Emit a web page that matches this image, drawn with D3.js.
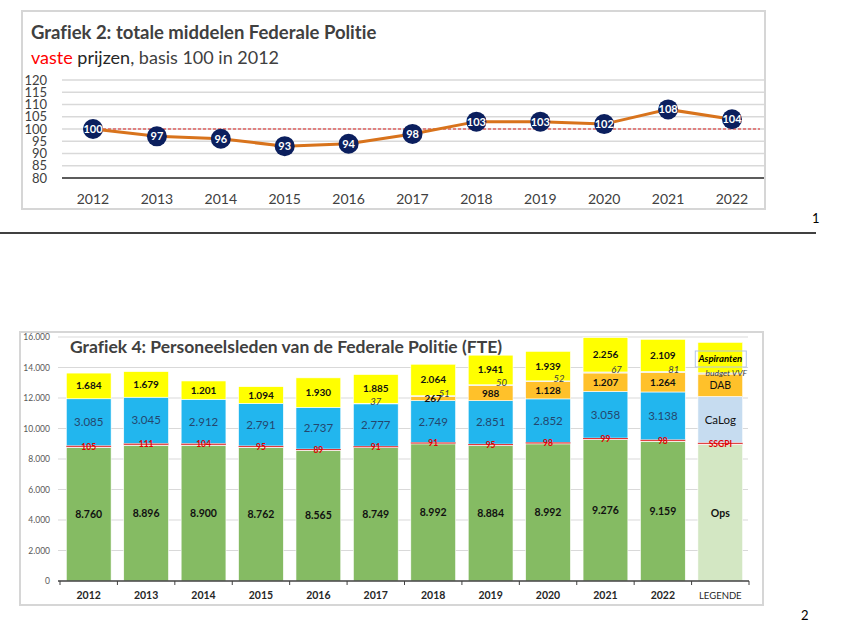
<!DOCTYPE html>
<html>
<head>
<meta charset="utf-8">
<script src="https://cdn.jsdelivr.net/npm/d3@7"></script>
<style>
  body { margin: 0; background: #fff; }
  svg { display: block; font-family: Lato, "Open Sans", sans-serif; font-variant-ligatures: none; }
</style>
</head>
<body>
<script>
// Grafiek 2: index totale middelen (vaste prijzen, 2012 = 100)
var years = ["2012","2013","2014","2015","2016","2017","2018","2019","2020","2021","2022"];
var indexValues = [100, 97, 96, 93, 94, 98, 103, 103, 102, 108, 104];
var indexTicks = [80, 85, 90, 95, 100, 105, 110, 115, 120];

// Grafiek 4: personeelsleden (FTE)
var fteCategories = years.concat(["LEGENDE"]);
var ops        = [8760, 8896, 8900, 8762, 8565, 8749, 8992, 8884, 8992, 9276, 9159];
var ssgpi      = [105, 111, 104, 95, 89, 91, 91, 95, 98, 99, 98];
var calog      = [3085, 3045, 2912, 2791, 2737, 2777, 2749, 2851, 2852, 3058, 3138];
var dab        = [0, 0, 0, 0, 0, 0, 267, 988, 1128, 1207, 1264];
var vvf        = [0, 0, 0, 0, 0, 37, 51, 50, 52, 67, 81];
var aspiranten = [1684, 1679, 1201, 1094, 1930, 1885, 2064, 1941, 1939, 2256, 2109];
var fteTicks = [0, 2000, 4000, 6000, 8000, 10000, 12000, 14000, 16000];
var legendNames = ["Ops", "SSGPI", "CaLog", "DAB", "budget VVF", "Aspiranten"];
var legendSizes = [8960, 100, 3040, 1470, 80, 2000];

var width = 844,
    height = 643;

var nl = d3.formatLocale({decimal: ",", thousands: ".", grouping: [3], currency: ["€", ""]});
var fmt = nl.format(",d");

var svg = d3.select("body").append("svg")
    .attr("width", width)
    .attr("height", height);

// ---------- top chart ----------
var topChart = svg.append("g");

topChart.append("rect")
    .attr("x", 22).attr("y", 11).attr("width", 743).attr("height", 198)
    .attr("fill", "none").attr("stroke", "#d6d6d6").attr("stroke-width", 2);

topChart.append("text").attr("x", 31).attr("y", 39)
    .attr("font-size", 18.5).attr("font-weight", "bold").attr("fill", "#404040")
    .text("Grafiek 2: totale middelen Federale Politie");

var sub = topChart.append("text").attr("x", 31).attr("y", 64)
    .attr("font-size", 18).attr("fill", "#404040");
sub.append("tspan").attr("fill", "#ff0000").text("vaste");
sub.append("tspan").attr("fill", "#262626").text(" prijzen");
sub.append("tspan").text(", basis 100 in 2012");

var xi = d3.scalePoint().domain(years).range([93, 732]);
var yi = d3.scaleLinear().domain([80, 120]).range([178, 80]);

topChart.selectAll(".igrid").data(indexTicks).enter().append("line")
    .attr("x1", 62).attr("x2", 764)
    .attr("y1", function(d) { return yi(d); })
    .attr("y2", function(d) { return yi(d); })
    .attr("stroke", function(d) { return d == 80 ? "#262626" : "#d9d9d9"; })
    .attr("stroke-width", 1.5);

topChart.selectAll(".itick").data(indexTicks).enter().append("text")
    .attr("x", 47).attr("y", function(d) { return yi(d) + 4.5; })
    .attr("text-anchor", "end").attr("font-size", 13).attr("fill", "#404040")
    .text(function(d) { return d; });

topChart.append("line")
    .attr("x1", xi("2012")).attr("x2", 760)
    .attr("y1", yi(100)).attr("y2", yi(100))
    .attr("stroke", "#e02020").attr("stroke-width", 1).attr("stroke-dasharray", "3,2");

topChart.selectAll(".iyear").data(years).enter().append("text")
    .attr("x", function(d) { return xi(d); }).attr("y", 204)
    .attr("text-anchor", "middle").attr("font-size", 14).attr("fill", "#404040")
    .text(function(d) { return d; });

var line = d3.line()
    .x(function(d, i) { return xi(years[i]); })
    .y(function(d) { return yi(d); });

topChart.append("path").datum(indexValues)
    .attr("d", line).attr("fill", "none")
    .attr("stroke", "#d8731c").attr("stroke-width", 3);

var pts = topChart.selectAll(".ipt").data(indexValues).enter().append("g")
    .attr("transform", function(d, i) { return "translate(" + xi(years[i]) + "," + yi(d) + ")"; });
pts.append("circle").attr("r", 10).attr("fill", "#0b1f5e");
pts.append("text").attr("y", 4).attr("text-anchor", "middle")
    .attr("font-size", 11).attr("font-weight", "bold").attr("fill", "#fff")
    .text(function(d) { return d; });

// page 1 footer
svg.append("text").attr("x", 812).attr("y", 223).attr("font-size", 13).attr("fill", "#000").text("1");
svg.append("line").attr("x1", 0).attr("x2", 816).attr("y1", 233).attr("y2", 233)
    .attr("stroke", "#000").attr("stroke-width", 1.5);

// ---------- bottom chart ----------
var bot = svg.append("g");

bot.append("rect")
    .attr("x", 20).attr("y", 332).attr("width", 743).attr("height", 273)
    .attr("fill", "none").attr("stroke", "#d6d6d6").attr("stroke-width", 2);

var xb = d3.scaleBand().domain(fteCategories).range([60, 749])
    .paddingInner(0.22).paddingOuter(0.11);
var yb = d3.scaleLinear().domain([0, 16000]).range([581, 337]);

bot.selectAll(".bgrid").data(fteTicks.slice(1)).enter().append("line")
    .attr("x1", 58).attr("x2", 748)
    .attr("y1", function(d) { return yb(d); })
    .attr("y2", function(d) { return yb(d); })
    .attr("stroke", "#d9d9d9").attr("stroke-width", 1);

bot.selectAll(".btick").data(fteTicks).enter().append("text")
    .attr("x", 50).attr("y", function(d) { return yb(d) + 3; })
    .attr("text-anchor", "end").attr("font-size", 8.5).attr("fill", "#595959")
    .text(function(d) { return fmt(d); });

bot.append("text").attr("x", 70).attr("y", 353)
    .attr("font-size", 17.5).attr("font-weight", "bold").attr("fill", "#404040")
    .text("Grafiek 4: Personeelsleden van de Federale Politie (FTE)");

var keys = ["ops", "ssgpi", "calog", "dab", "vvf", "aspiranten"];
var colors = {ops: "#85bb63", ssgpi: "#e98a8a", calog: "#22b6ee", dab: "#ffc12a", vvf: "#d8d4c4", aspiranten: "#ffff00"};
var rows = years.map(function(y, i) {
    return {cat: y, ops: ops[i], ssgpi: ssgpi[i], calog: calog[i], dab: dab[i], vvf: vvf[i], aspiranten: aspiranten[i]};
});
var stack = d3.stack().keys(keys)(rows);

var layers = bot.selectAll(".layer").data(stack).enter().append("g")
    .attr("fill", function(d) { return colors[d.key]; });

layers.selectAll("rect").data(function(d) { return d; }).enter().append("rect")
    .attr("x", function(d) { return xb(d.data.cat); })
    .attr("width", xb.bandwidth())
    .attr("y", function(d) { return yb(d[1]); })
    .attr("height", function(d) { return yb(d[0]) - yb(d[1]); })
    .attr("stroke", "#fff").attr("stroke-width", 0.6);

// red line on top of SSGPI band
bot.selectAll(".sline").data(stack[1]).enter().append("line")
    .attr("x1", function(d) { return xb(d.data.cat); })
    .attr("x2", function(d) { return xb(d.data.cat) + xb.bandwidth(); })
    .attr("y1", function(d) { return yb(d[1]) + 0.5; })
    .attr("y2", function(d) { return yb(d[1]) + 0.5; })
    .attr("stroke", "#e03030").attr("stroke-width", 1);

var labelStyle = {
    ops:        {size: 10.5, weight: "bold", style: "normal", fill: "#111"},
    ssgpi:      {size: 8.5, weight: "bold", style: "normal", fill: "#e00000"},
    calog:      {size: 11.5, weight: "normal", style: "normal", fill: "#24476e"},
    dab:        {size: 10, weight: "bold", style: "normal", fill: "#111"},
    vvf:        {size: 9.5, weight: "normal", style: "italic", fill: "#404040"},
    aspiranten: {size: 10, weight: "bold", style: "normal", fill: "#111"}
};

stack.forEach(function(layer) {
    var st = labelStyle[layer.key];
    bot.selectAll(".lbl-" + layer.key).data(layer.filter(function(d) { return d[1] - d[0] > 0; }))
        .enter().append("text")
        .attr("x", function(d) {
            var cx = xb(d.data.cat) + xb.bandwidth() / 2;
            return (layer.key == "vvf" && d.data.dab > 0) ? cx + 11 : cx;
        })
        .attr("y", function(d) {
            var cy = (yb(d[0]) + yb(d[1])) / 2;
            return layer.key == "vvf" ? cy + 1 : cy + st.size * 0.35;
        })
        .attr("text-anchor", "middle")
        .attr("font-size", st.size).attr("font-weight", st.weight)
        .attr("font-style", st.style).attr("fill", st.fill)
        .text(function(d) { return fmt(d.data[layer.key]); });
});

// legend column drawn as an extra bar
var legendColors = ["#d3e7c3", "#e98a8a", "#c6dcf0", "#ffc12a", "#d8d4c4", "#ffff00"];
var legendStack = [];
var acc = 0;
legendSizes.forEach(function(v, i) {
    legendStack.push({name: legendNames[i], y0: acc, y1: acc + v, color: legendColors[i]});
    acc += v;
});
var lx = xb("LEGENDE"), lw = xb.bandwidth();

bot.selectAll(".leg").data(legendStack).enter().append("rect")
    .attr("x", lx).attr("width", lw)
    .attr("y", function(d) { return yb(d.y1); })
    .attr("height", function(d) { return yb(d.y0) - yb(d.y1); })
    .attr("fill", function(d) { return d.color; })
    .attr("stroke", "#fff").attr("stroke-width", 0.6);

bot.append("line")
    .attr("x1", lx).attr("x2", lx + lw)
    .attr("y1", yb(legendStack[1].y1) + 0.5).attr("y2", yb(legendStack[1].y1) + 0.5)
    .attr("stroke", "#e03030").attr("stroke-width", 1);

var lc = lx + lw / 2;
bot.append("rect").attr("x", lc - 25).attr("y", 351).attr("width", 51).attr("height", 16)
    .attr("fill", "none").attr("stroke", "#b4c6e7").attr("stroke-width", 1);
bot.append("text").attr("x", lc).attr("y", 362).attr("text-anchor", "middle")
    .attr("font-size", 9.5).attr("font-weight", "bold").attr("font-style", "italic").attr("fill", "#000")
    .text(legendNames[5]);
bot.append("text").attr("x", lc + 6).attr("y", 376).attr("text-anchor", "middle")
    .attr("font-size", 8.5).attr("font-style", "italic").attr("fill", "#404040")
    .text(legendNames[4]);
bot.append("text").attr("x", lc).attr("y", 389).attr("text-anchor", "middle")
    .attr("font-size", 10.5).attr("fill", "#111").text(legendNames[3]);
bot.append("text").attr("x", lc).attr("y", 424).attr("text-anchor", "middle")
    .attr("font-size", 11.5).attr("fill", "#111").text(legendNames[2]);
bot.append("text").attr("x", lc).attr("y", 447).attr("text-anchor", "middle")
    .attr("font-size", 8.5).attr("font-weight", "bold").attr("fill", "#e00000").text(legendNames[1]);
bot.append("text").attr("x", lc).attr("y", 517).attr("text-anchor", "middle")
    .attr("font-size", 10.5).attr("font-weight", "bold").attr("fill", "#111").text(legendNames[0]);

// x axis
var xAxis = bot.append("g").attr("transform", "translate(0," + yb(0) + ")");
xAxis.append("line").attr("x1", 58).attr("x2", 749).attr("stroke", "#404040").attr("stroke-width", 1.5);
var bounds = fteCategories.map(function(c) { return xb(c) - xb.step() * xb.paddingInner() / 2; });
bounds[0] = 60;
bounds.push(749);
xAxis.selectAll(".bt").data(bounds).enter().append("line")
    .attr("x1", function(d) { return d; }).attr("x2", function(d) { return d; })
    .attr("y1", 0).attr("y2", 4)
    .attr("stroke", "#404040").attr("stroke-width", 1);
xAxis.selectAll(".bl").data(fteCategories).enter().append("text")
    .attr("x", function(d) { return xb(d) + xb.bandwidth() / 2; })
    .attr("y", 18).attr("text-anchor", "middle")
    .attr("font-size", function(d) { return d == "LEGENDE" ? 9.5 : 10.5; })
    .attr("font-weight", function(d) { return d == "LEGENDE" ? "normal" : "bold"; })
    .attr("fill", "#262626")
    .text(function(d) { return d; });

// page 2 footer
svg.append("text").attr("x", 801).attr("y", 620).attr("font-size", 13).attr("fill", "#000").text("2");
</script>
</body>
</html>
